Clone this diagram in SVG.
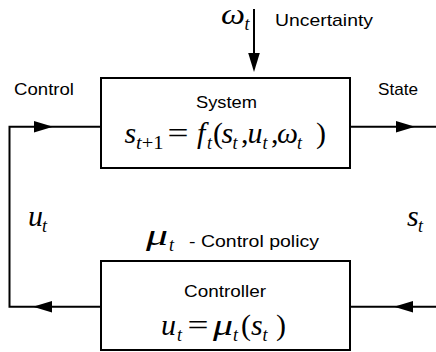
<svg xmlns="http://www.w3.org/2000/svg" xmlns:xlink="http://www.w3.org/1999/xlink" width="436" height="352" viewBox="0 0 436 352">
  <style>
    .box { fill: #ffffff; stroke: #000000; stroke-width: 2; }
    .line { fill: none; stroke: #000000; stroke-width: 2; }
    .lbl { font-family: "Liberation Sans", Arial, sans-serif; font-size: 17px; fill: #000000; }
    .mi { font-family: "Liberation Serif", "Times New Roman", serif; font-style: italic; font-size: 30px; fill: #000000; }
    .mn { font-family: "Liberation Serif", "Times New Roman", serif; font-size: 30px; fill: #000000; }
    .sub { font-family: "Liberation Serif", "Times New Roman", serif; font-style: italic; font-size: 18px; fill: #000000; }
    .subn { font-family: "Liberation Serif", "Times New Roman", serif; font-size: 18px; fill: #000000; }
  </style>
  <defs>
    <path id="ah" d="M0,0 L-19,-5.8 L-19,5.8 Z" fill="#000000"/>
  </defs>
  <rect width="436" height="352" fill="#ffffff"/>

  <g id="connectors">
    <line class="line" x1="254" y1="9" x2="254" y2="60"/>
    <use xlink:href="#ah" transform="translate(254,72) rotate(90)"/>
    <path class="line" d="M101,306.7 H9.5 V126.7 H101"/>
    <use xlink:href="#ah" transform="translate(53,126.7)"/>
    <use xlink:href="#ah" transform="translate(33,306.7) rotate(180)"/>
    <line class="line" x1="350" y1="126.7" x2="436" y2="126.7"/>
    <use xlink:href="#ah" transform="translate(415,126.7)"/>
    <line class="line" x1="436" y1="306.7" x2="350" y2="306.7"/>
    <use xlink:href="#ah" transform="translate(394,306.7) rotate(180)"/>
  </g>

  <g id="labels">
    <text class="lbl" x="14" y="94.5" textLength="60" lengthAdjust="spacingAndGlyphs">Control</text>
    <text class="lbl" x="378" y="94.5" textLength="40" lengthAdjust="spacingAndGlyphs">State</text>
    <text class="lbl" x="275" y="26" textLength="98" lengthAdjust="spacingAndGlyphs">Uncertainty</text>
    <text class="mi" x="221" y="24" textLength="24" lengthAdjust="spacingAndGlyphs">ω</text>
    <text class="sub" x="244.5" y="30">t</text>
    <text class="mi" x="28" y="226">u</text>
    <text class="sub" x="42" y="232">t</text>
    <text class="mi" x="407" y="226">s</text>
    <text class="sub" x="418" y="232">t</text>
    <text class="mi" x="146" y="245" textLength="22" lengthAdjust="spacingAndGlyphs">μ</text>
    <text class="sub" x="169" y="251">t</text>
    <text class="lbl" x="189" y="246.5" textLength="130" lengthAdjust="spacingAndGlyphs">- Control policy</text>
  </g>

  <g id="system">
    <rect class="box" x="101" y="78" width="249" height="90"/>
    <text class="lbl" x="196" y="108" textLength="61" lengthAdjust="spacingAndGlyphs">System</text>
    <text class="mi" x="124.5" y="143">s</text>
    <text class="subn" x="136" y="148.5" textLength="27.5" lengthAdjust="spacingAndGlyphs"><tspan font-style="italic">t</tspan>+1</text>
    <text class="mn" x="167.5" y="143" textLength="21" lengthAdjust="spacingAndGlyphs">=</text>
    <text class="mi" x="197" y="143">f</text>
    <text class="sub" x="207" y="148.5">t</text>
    <text class="mn" x="213" y="143">(</text>
    <text class="mi" x="221.5" y="143">s</text>
    <text class="sub" x="232.5" y="148.5">t</text>
    <text class="mn" x="241" y="143">,</text>
    <text class="mi" x="247.5" y="143">u</text>
    <text class="sub" x="262.5" y="148.5">t</text>
    <text class="mn" x="271" y="143">,</text>
    <text class="mi" x="277" y="143" textLength="21" lengthAdjust="spacingAndGlyphs">ω</text>
    <text class="sub" x="297" y="148.5">t</text>
    <text class="mn" x="316" y="143">)</text>
  </g>

  <g id="controller">
    <rect class="box" x="101" y="261" width="249" height="89"/>
    <text class="lbl" x="184" y="296.5" textLength="82" lengthAdjust="spacingAndGlyphs">Controller</text>
    <text class="mi" x="161" y="335">u</text>
    <text class="sub" x="177" y="341">t</text>
    <text class="mn" x="187.5" y="335" textLength="21" lengthAdjust="spacingAndGlyphs">=</text>
    <text class="mi" x="213" y="335" textLength="20" lengthAdjust="spacingAndGlyphs">μ</text>
    <text class="sub" x="233" y="341">t</text>
    <text class="mn" x="241" y="335">(</text>
    <text class="mi" x="251" y="335">s</text>
    <text class="sub" x="262.5" y="341">t</text>
    <text class="mn" x="276" y="335">)</text>
  </g>
</svg>
